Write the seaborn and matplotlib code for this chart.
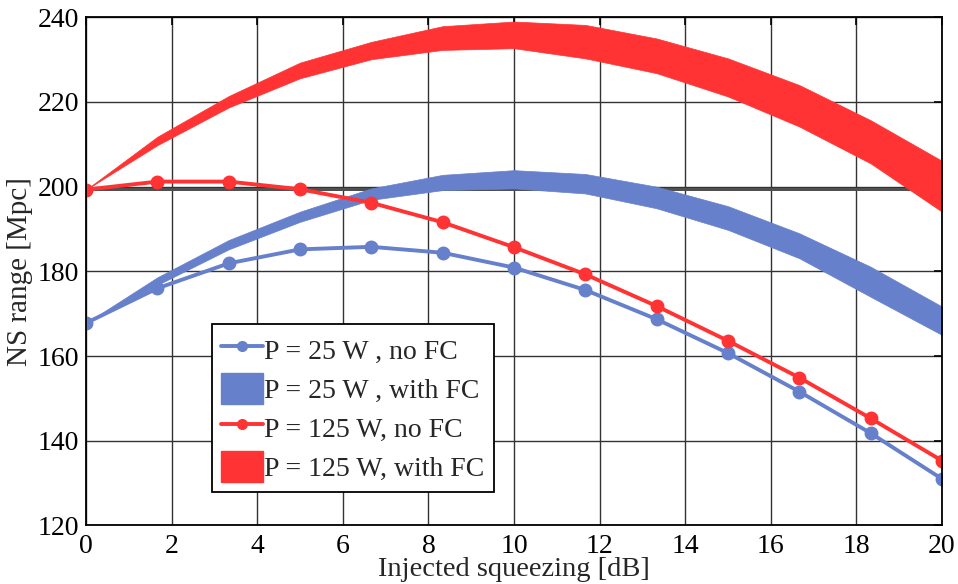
import numpy as np
import pandas as pd
import matplotlib
matplotlib.use("Agg")
import matplotlib.pyplot as plt
from matplotlib.patches import Patch
from matplotlib.lines import Line2D
import seaborn as sns

# Injected squeezing levels [dB]
squeezing_db = [0, 1.667, 3.333, 5, 6.667, 8.333, 10, 11.667, 13.333, 15, 16.667, 18.333, 20]

# NS range [Mpc] without filter cavity
range_25w_nofc = [167.8, 176.0, 181.9, 185.2, 185.8, 184.4, 180.9, 175.6, 168.7, 160.7, 151.6, 141.8, 131.0]
range_125w_nofc = [199.3, 201.2, 201.2, 199.4, 196.2, 191.6, 185.7, 179.3, 171.8, 163.6, 154.9, 145.3, 135.3]

# NS range [Mpc] with filter cavity (lower / upper bound)
range_25w_fc_lo = [167.8, 176.8, 185.2, 191.7, 196.9, 199.2, 199.6, 198.4, 194.9, 189.8, 183.1, 174.0, 165.0]
range_25w_fc_hi = [167.8, 178.6, 187.4, 194.1, 199.6, 202.8, 203.9, 203.0, 200.0, 195.4, 189.0, 181.1, 171.7]
range_125w_fc_lo = [199.3, 209.8, 218.7, 225.6, 230.1, 232.3, 232.7, 230.3, 226.8, 221.3, 214.2, 205.5, 194.1]
range_125w_fc_hi = [199.3, 211.8, 221.4, 229.3, 234.2, 237.9, 239.0, 238.2, 235.0, 230.3, 224.0, 215.7, 206.1]

# Reference range band [Mpc]
reference_band = [198.9, 199.6]

legend_labels = ["P = 25 W , no FC", "P = 25 W , with FC", "P = 125 W, no FC", "P = 125 W, with FC"]

BLUE = "#6680cc"
RED = "#ff3333"

sns.set_theme(style="white")
plt.rcParams["font.family"] = ["Liberation Serif", "DejaVu Serif"]
plt.rcParams["mathtext.fontset"] = "stix"

fig = plt.figure(figsize=(9.58, 5.84), dpi=100)
ax = fig.add_axes([0.0898, 0.1002, 0.8935, 0.8702])

x = np.array(squeezing_db)

# reference band
ax.fill_between([0, 20], [reference_band[0]] * 2, [reference_band[1]] * 2,
                color="#505050", lw=0, zorder=2)

# filter-cavity bands
ax.fill_between(x, range_25w_fc_lo, range_25w_fc_hi, color=BLUE, lw=0.5,
                edgecolor=BLUE, zorder=3)
ax.fill_between(x, range_125w_fc_lo, range_125w_fc_hi, color=RED, lw=0.5,
                edgecolor=RED, zorder=3)

# no-filter-cavity curves
df = pd.DataFrame({
    "x": np.concatenate([x, x]),
    "y": range_25w_nofc + range_125w_nofc,
    "series": [legend_labels[0]] * len(x) + [legend_labels[2]] * len(x),
})
sns.lineplot(data=df, x="x", y="y", hue="series",
             palette={legend_labels[0]: BLUE, legend_labels[2]: RED},
             marker="o", markersize=8.5, markeredgewidth=1.5, linewidth=2.8,
             legend=False, ax=ax, zorder=4)
for line in ax.lines:
    line.set_markeredgecolor(line.get_color())

ax.set_xlim(0, 20)
ax.set_ylim(120, 240)
ax.set_xticks(np.arange(0, 21, 2))
ax.set_yticks(np.arange(120, 241, 20))
ax.grid(True, color="#333333", lw=1.0, zorder=0)
ax.set_axisbelow(True)
for s in ax.spines.values():
    s.set_color("black")
    s.set_linewidth(1.3)
    s.set_zorder(6)
ax.tick_params(direction="in", length=6, width=1.2, top=True, right=True,
               labelsize=20, colors="black")
ax.tick_params(axis="x", pad=6)
ax.tick_params(axis="y", pad=5)

ax.set_xlabel("Injected squeezing [dB]", fontsize=20.5, labelpad=-1)
ax.set_ylabel("NS range [Mpc]", fontsize=21, labelpad=3)

handles = [
    Line2D([0], [0], color=BLUE, lw=2.8, marker="o", markersize=7),
    Patch(facecolor=BLUE, edgecolor=BLUE),
    Line2D([0], [0], color=RED, lw=2.8, marker="o", markersize=7),
    Patch(facecolor=RED, edgecolor=RED),
]
leg = ax.legend(handles, legend_labels, loc="lower left",
                bbox_to_anchor=(0.147, 0.0665), borderaxespad=0,
                fontsize=20, frameon=True, fancybox=False, framealpha=1,
                edgecolor="black", handlelength=1.5, handleheight=1.38,
                handletextpad=0.05, labelspacing=0.26, borderpad=0.34)
leg.get_frame().set_linewidth(1.3)
leg.set_zorder(10)

fig.savefig("out.png", dpi=100)
